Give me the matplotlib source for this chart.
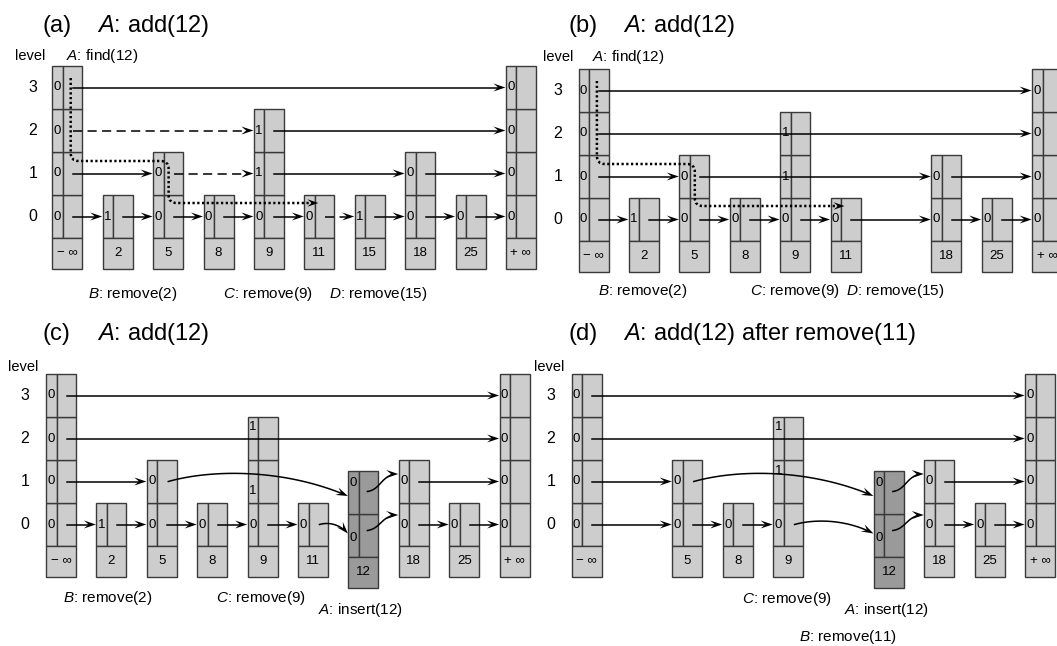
import numpy as np
import matplotlib.pyplot as plt
from matplotlib.patches import Rectangle, Polygon, PathPatch
from matplotlib.path import Path

plt.rcParams['font.family'] = ['Liberation Sans', 'DejaVu Sans']
plt.rcParams['mathtext.fontset'] = 'custom'
plt.rcParams['mathtext.it'] = 'Liberation Sans:italic'
plt.rcParams['mathtext.rm'] = 'Liberation Sans'

# 각 패널의 skip list 상태 (None = 빈 자리)
keys_a = ['− ∞', '2', '5', '8', '9', '11', '15', '18', '25', '+ ∞']
marks_a = [[0, 0, 0, 0], [1], [0, 0], [0], [0, 1, 1], [0], [1], [0, 0], [0], [0, 0, 0, 0]]
keys_b = ['− ∞', '2', '5', '8', '9', '11', None, '18', '25', '+ ∞']
marks_b = [[0, 0, 0, 0], [1], [0, 0], [0], [0, 1, 1], [0], None, [0, 0], [0], [0, 0, 0, 0]]
keys_c = ['− ∞', '2', '5', '8', '9', '11', '12', '18', '25', '+ ∞']
marks_c = [[0, 0, 0, 0], [1], [0, 0], [0], [0, 1, 1], [0], [0, 0], [0, 0], [0], [0, 0, 0, 0]]
keys_d = ['− ∞', None, '5', '8', '9', None, '12', '18', '25', '+ ∞']
marks_d = [[0, 0, 0, 0], None, [0, 0], [0], [0, 1, 1], None, [0, 0], [0, 0], [0], [0, 0, 0, 0]]

# (level, from, to, style)
links_a = [(3, 0, 9, '-'), (2, 0, 4, '--'), (2, 4, 9, '-'),
           (1, 0, 2, '-'), (1, 2, 4, '--'), (1, 4, 7, '-'), (1, 7, 9, '-'),
           (0, 0, 1, '-'), (0, 1, 2, '-'), (0, 2, 3, '-'), (0, 3, 4, '-'), (0, 4, 5, '-'),
           (0, 5, 6, '--'), (0, 6, 7, '-'), (0, 7, 8, '-'), (0, 8, 9, '-')]
links_b = [(3, 0, 9, '-'), (2, 0, 9, '-'), (1, 0, 2, '-'), (1, 2, 7, '-'), (1, 7, 9, '-'),
           (0, 0, 1, '-'), (0, 1, 2, '-'), (0, 2, 3, '-'), (0, 3, 4, '-'), (0, 4, 5, '-'),
           (0, 5, 7, '-'), (0, 7, 8, '-'), (0, 8, 9, '-')]
links_c = [(3, 0, 9, '-'), (2, 0, 9, '-'), (1, 0, 2, '-'), (1, 2, 6, 'arc'), (1, 6, 7, 's'), (1, 7, 9, '-'),
           (0, 0, 1, '-'), (0, 1, 2, '-'), (0, 2, 3, '-'), (0, 3, 4, '-'), (0, 4, 5, '-'),
           (0, 5, 6, 'arc'), (0, 6, 7, 's'), (0, 7, 8, '-'), (0, 8, 9, '-')]
links_d = [(3, 0, 9, '-'), (2, 0, 9, '-'), (1, 0, 2, '-'), (1, 2, 6, 'arc'), (1, 6, 7, 's'), (1, 7, 9, '-'),
           (0, 0, 2, '-'), (0, 2, 3, '-'), (0, 3, 4, '-'), (0, 4, 6, 'arc'), (0, 6, 7, 's'),
           (0, 7, 8, '-'), (0, 8, 9, '-')]

LIGHT, DARK, EDGE = '#cdcdcd', '#9a9a9a', '#3a3a3a'
W, DIV, ROW, KEYH, STEP = 30, 10.5, 43, 30.5, 50.4
LW = 1.1

fig = plt.figure(figsize=(10.57, 6.46), dpi=100)
ax = fig.add_axes([0, 0, 1, 1])
ax.set_xlim(0, 1057)
ax.set_ylim(646, 0)
ax.axis('off')


def head(x, y, ux, uy, L=12, hw=4):
    nx, ny = -uy, ux
    pts = [(x, y), (x - L * ux + hw * nx, y - L * uy + hw * ny),
           (x - 0.6 * L * ux, y - 0.6 * L * uy), (x - L * ux - hw * nx, y - L * uy - hw * ny)]
    ax.add_patch(Polygon(pts, closed=True, fc='black', ec='none', zorder=5))


def bezier_arrow(p0, p1, p2, p3):
    t = np.linspace(0, 1, 120)[:, None]
    pts = ((1 - t) ** 3 * np.array(p0) + 3 * (1 - t) ** 2 * t * np.array(p1)
           + 3 * (1 - t) * t ** 2 * np.array(p2) + t ** 3 * np.array(p3))
    d = np.hypot(pts[:, 0] - p3[0], pts[:, 1] - p3[1])
    keep = d > 6
    ax.plot(pts[keep, 0], pts[keep, 1], color='black', lw=LW, zorder=4)
    u = np.array(p3) - np.array(p2)
    u = u / np.hypot(*u)
    head(p3[0], p3[1], u[0], u[1])


def panel(x0, top, keys, marks, links, shifts, lvl_x):
    lefts = [x0 + i * STEP for i in range(len(keys))]
    rowc = lambda l: top + (3 - l) * ROW + ROW / 2
    drop = {}
    for i, (k, m) in enumerate(zip(keys, marks)):
        if k is None:
            continue
        h = len(m)
        fc = LIGHT
        dy = 0
        if k == '12':
            fc, dy = DARK, 11
        drop[i] = dy
        ytop = top + (4 - h) * ROW + dy
        for l in range(h):
            y = ytop + (h - 1 - l) * ROW
            ax.add_patch(Rectangle((lefts[i], y), DIV, ROW, fc=fc, ec=EDGE, lw=1, zorder=1))
            ax.add_patch(Rectangle((lefts[i] + DIV, y), W - DIV, ROW, fc=fc, ec=EDGE, lw=1, zorder=1))
            ax.text(lefts[i] + 1.4, y + ROW / 2 + shifts.get((i, l), 0), str(m[l]),
                    fontsize=9.5, ha='left', va='center', zorder=2)
        yk = ytop + h * ROW
        ax.add_patch(Rectangle((lefts[i], yk), W, KEYH, fc=fc, ec=EDGE, lw=1, zorder=1))
        ax.text(lefts[i] + W / 2, yk + KEYH / 2, k, fontsize=9.5,
                ha='center', va='center', zorder=2)
    for l in range(4):
        ax.text(lvl_x, rowc(l), str(l), fontsize=11.5, ha='center', va='center')
    for l, i, j, st in links:
        y = rowc(l)
        if st in ('-', '--'):
            xs, xe = lefts[i] + 20.5, lefts[j] - 0.5
            ax.plot([xs, xe - 6], [y, y], color='black', lw=LW,
                    ls='-' if st == '-' else (0, (6, 3.5)), zorder=4)
            head(xe, y, 1, 0)
        elif st == 'arc':
            xs = lefts[i] + 21.5
            xe = lefts[j] - 0.5
            ye = y + (14.5 if l == 1 else 9)
            dx = xe - xs
            bezier_arrow((xs, y), (xs + 0.25 * dx, y - 0.07 * dx),
                         (xs + 0.65 * dx, y - 0.07 * dx), (xe, ye))
        elif st == 's':
            xs = lefts[i] + 19
            ys = y + drop[i] - (1 if l == 1 else 5)
            xe = lefts[j] - 0.5
            ye = y - (7.5 if l == 1 else 9.5)
            dx = xe - xs
            bezier_arrow((xs, ys), (xs + 0.45 * dx, ys - 2), (xs + 0.45 * dx, ye), (xe, ye))
    return lefts


def find_path(lefts, top):
    xa, xb, xe = lefts[0] + 18.4, lefts[2] + 15.5, lefts[5] + 14
    y0, y1, y2 = top + 12, top + 95, top + 137
    r = 8
    verts = [(xa, y0), (xa, y1 - r), (xa, y1), (xa + r, y1), (xb - r, y1), (xb, y1), (xb, y1 + r),
             (xb, y2 - r), (xb, y2), (xb + r, y2), (xe - 6, y2)]
    codes = [Path.MOVETO, Path.LINETO, Path.CURVE3, Path.CURVE3, Path.LINETO, Path.CURVE3, Path.CURVE3,
             Path.LINETO, Path.CURVE3, Path.CURVE3, Path.LINETO]
    ax.add_patch(PathPatch(Path(verts, codes), fill=False, lw=1.8, ls=(0, (0.9, 1.0)),
                           ec='black', zorder=4))
    head(xe, y2, 1, 0, L=11, hw=3.8)


def titles(xp, xa, yb, text):
    ax.text(xp, yb, '(' + text[0] + ')', fontsize=17, va='baseline')
    ax.text(xa, yb, text[1], fontsize=17, va='baseline')


# (a)
la = panel(52.3, 66, keys_a, marks_a, links_a, {}, 33)
find_path(la, 66)
titles(42, 97, 32, ('a', r'$A$: add(12)'))
ax.text(15, 60, 'level', fontsize=10.5, va='baseline')
ax.text(66, 60, r'$A$: find(12)', fontsize=11, va='baseline')
for s, x in [(r'$B$: remove(2)', 88), (r'$C$: remove(9)', 223), (r'$D$: remove(15)', 329)]:
    ax.text(x, 298, s, fontsize=11, va='baseline')

# (b)
lb = panel(578.5, 69, keys_b, marks_b, links_b, {}, 558)
find_path(lb, 69)
titles(568, 623, 32, ('b', r'$A$: add(12)'))
ax.text(543, 61, 'level', fontsize=10.5, va='baseline')
ax.text(592, 61, r'$A$: find(12)', fontsize=11, va='baseline')
for s, x in [(r'$B$: remove(2)', 598), (r'$C$: remove(9)', 750), (r'$D$: remove(15)', 846)]:
    ax.text(x, 295, s, fontsize=11, va='baseline')

# (c)
panel(46, 374, keys_c, marks_c, links_c,
      {(4, 2): -11.5, (4, 1): 9, (6, 1): -9.5, (6, 0): 2.5}, 25)
titles(42, 97, 340, ('c', r'$A$: add(12)'))
ax.text(8, 371, 'level', fontsize=10.5, va='baseline')
for s, x, y in [(r'$B$: remove(2)', 63, 602), (r'$C$: remove(9)', 216, 602), (r'$A$: insert(12)', 318, 614)]:
    ax.text(x, y, s, fontsize=11, va='baseline')

# (d)
panel(571.5, 374, keys_d, marks_d, links_d,
      {(4, 2): -11.5, (4, 1): -10.5, (6, 1): -9.5, (6, 0): 2.5}, 551)
titles(568, 623, 340, ('d', r'$A$: add(12) after remove(11)'))
ax.text(534, 371, 'level', fontsize=10.5, va='baseline')
for s, x, y in [(r'$C$: remove(9)', 742, 603), (r'$A$: insert(12)', 844, 614), (r'$B$: remove(11)', 799, 641)]:
    ax.text(x, y, s, fontsize=11, va='baseline')

fig.savefig('out.png', dpi=100)
